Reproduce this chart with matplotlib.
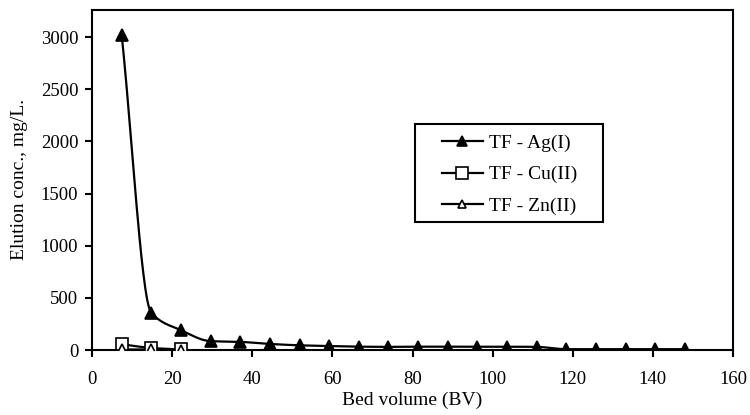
import numpy as np
import matplotlib
matplotlib.use("Agg")
import matplotlib.pyplot as plt
from matplotlib.lines import Line2D
from matplotlib.patches import Rectangle

bv_ag = [7.4, 14.8, 22.2, 29.6, 37.0, 44.4, 51.8, 59.2, 66.6, 74.0, 81.4, 88.8,
         96.2, 103.6, 111.0, 118.4, 125.8, 133.2, 140.6, 148.0]
ag = [3020, 355, 190, 85, 78, 58, 45, 38, 32, 30, 32, 32, 32, 32, 30, 8, 8, 8, 8, 8]
bv_cu = [7.4, 14.8, 22.2]
cu = [55, 20, 5]
bv_zn = [7.4, 14.8, 22.2]
zn = [5, 5, 3]
labels = ["TF - Ag(I)", "TF - Cu(II)", "TF - Zn(II)"]

plt.rcParams['font.family'] = ['Liberation Serif', 'DejaVu Serif']


def smooth(x, y, n=30):
    """Monotone cubic (Fritsch-Carlson) curve through the data points."""
    x = np.asarray(x, float)
    y = np.asarray(y, float)
    h = np.diff(x)
    d = np.diff(y) / h
    m = np.zeros_like(y)
    m[0], m[-1] = d[0], d[-1]
    for i in range(1, len(x) - 1):
        if d[i - 1] * d[i] <= 0:
            m[i] = 0
        else:
            w1 = 2 * h[i] + h[i - 1]
            w2 = h[i] + 2 * h[i - 1]
            m[i] = (w1 + w2) / (w1 / d[i - 1] + w2 / d[i])
    xs, ys = [], []
    t = np.linspace(0, 1, n, endpoint=False)
    for i in range(len(x) - 1):
        h00 = 2 * t ** 3 - 3 * t ** 2 + 1
        h10 = t ** 3 - 2 * t ** 2 + t
        h01 = -2 * t ** 3 + 3 * t ** 2
        h11 = t ** 3 - t ** 2
        xs.extend(x[i] + t * h[i])
        ys.extend(h00 * y[i] + h10 * h[i] * m[i] + h01 * y[i + 1] + h11 * h[i] * m[i + 1])
    xs.append(x[-1]); ys.append(y[-1])
    return np.array(xs), np.array(ys)


fig = plt.figure(figsize=(7.5, 4.15), dpi=100)
ax = fig.add_axes([0.1227, 0.1566, 0.8547, 0.8194])

series = [(bv_ag, ag, dict(marker='^', mfc='black', mec='black')),
          (bv_cu, cu, dict(marker='s', mfc='white', mec='black')),
          (bv_zn, zn, dict(marker='^', mfc='white', mec='black'))]
ms = [8, 9, 7]
handles = []
for (x, y, st), lab, m in zip(series, labels, ms):
    sx, sy = smooth(x, y)
    ax.plot(sx, sy, color='black', lw=1.6, zorder=2)
    ax.plot(x, y, ls='none', markersize=m, mew=1.2, zorder=3, **st)
    handles.append(Line2D([], [], color='black', lw=1.6, markersize=m - 1, mew=1.2, **st))

ax.set_xlim(0, 160)
ax.set_ylim(0, 3260)
ax.set_xticks(np.arange(0, 161, 20))
ax.set_yticks(np.arange(0, 3001, 500))
ax.tick_params(axis='both', direction='out', length=5, width=1.5, labelsize=13.5,
               top=False, right=False)
ax.tick_params(axis='x', pad=10)
ax.tick_params(axis='y', pad=5)
for s in ax.spines.values():
    s.set_linewidth(1.5)
ax.set_xlabel("Bed volume (BV)", fontsize=14, labelpad=3)
ax.set_ylabel("Elution conc., mg/L.", fontsize=14, labelpad=9)

# legend frame drawn as a box, entries placed inside it
ax.add_patch(Rectangle((0.504, 0.376), 0.293, 0.289, transform=ax.transAxes,
                       fill=True, facecolor='white', edgecolor='black', lw=1.5, zorder=4))
leg = ax.legend(handles, labels, loc='center left', bbox_to_anchor=(0.546, 0.516),
                fontsize=14, frameon=False, handlelength=2.1,
                borderpad=0, labelspacing=0.7, handletextpad=0.3,
                borderaxespad=0)
leg.set_zorder(5)

fig.savefig("out.png", dpi=100)
